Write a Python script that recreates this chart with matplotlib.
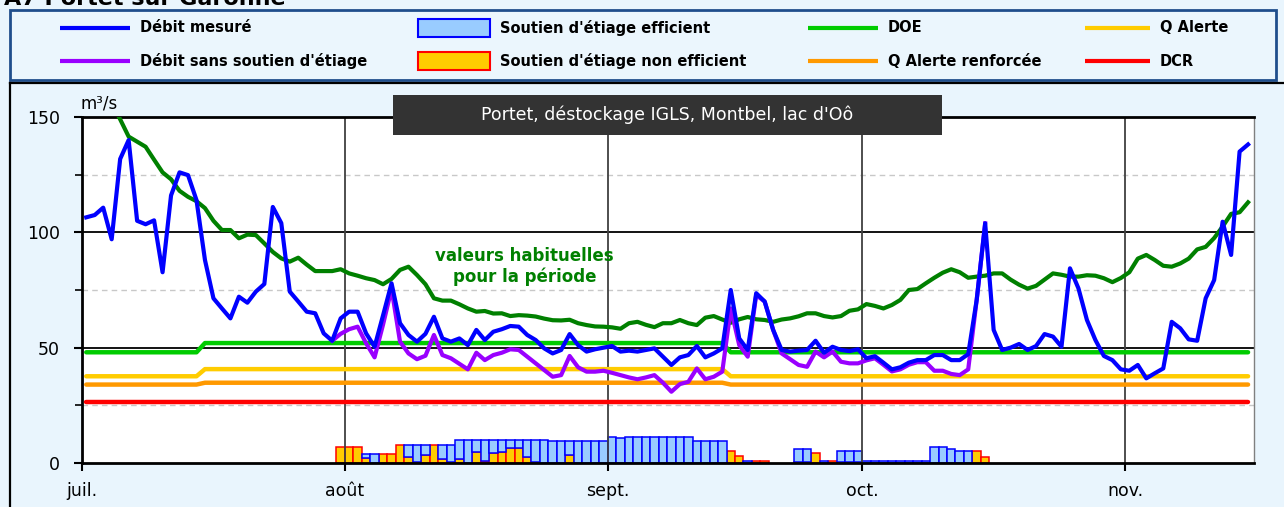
import numpy as np
import matplotlib
matplotlib.use("Agg")
import matplotlib.pyplot as plt
from matplotlib.patches import Rectangle

# --- données (m3/s), un point par jour à partir du 1er juillet ---
debit_mesure = [
    106.5, 107.5, 110.7, 97.0, 131.8, 140.0, 105.0, 103.5, 105.2, 82.7,
    116.0, 126.0, 124.8, 114.0, 88.0, 71.4, 67.0, 62.7, 72.1, 69.5,
    74.3, 77.6, 111.0, 104.0, 74.3, 70.0, 65.6, 64.9, 56.2, 53.0,
    62.7, 65.6, 65.6, 56.2, 50.4, 64.0, 77.9, 60.6, 55.5, 52.6,
    56.0, 63.4, 54.0, 52.6, 54.0, 51.1, 57.7, 53.3, 56.9, 58.0,
    59.4, 59.1, 55.5, 53.3, 49.7, 47.5, 49.0, 55.9, 51.1, 48.3,
    49.3, 50.0, 50.7, 48.3, 48.7, 48.3, 49.0, 49.7, 46.1, 42.5,
    45.8, 46.8, 50.7, 45.8, 47.5, 49.7, 75.0, 54.0, 49.0, 73.6,
    70.0, 57.7, 49.0, 48.3, 48.7, 49.0, 53.0, 47.8, 50.4, 49.0,
    48.5, 49.3, 45.4, 46.3, 43.5, 40.6, 41.5, 43.5, 44.6, 44.6,
    46.8, 46.8, 44.6, 44.6, 47.2, 70.7, 103.9, 57.7, 49.0, 50.0,
    51.6, 49.0, 50.7, 55.9, 54.8, 50.4, 84.4, 75.7, 62.0, 53.3,
    46.4, 44.6, 40.6, 40.0, 42.5, 36.7, 38.9, 41.0, 61.2, 58.4,
    53.6, 53.0, 71.4, 79.3, 104.6, 90.2, 135.0, 138.1,
]

# débit sans soutien d'étiage, du jour 29 au jour 106
sans_soutien_debut = 29
debit_sans_soutien = [
    53.0, 56.0, 58.0, 59.1, 51.9, 45.8, 60.0, 75.5, 52.6, 47.5,
    45.0, 46.5, 55.5, 46.8, 45.4, 43.0, 40.6, 47.8, 44.6, 46.8,
    47.8, 49.3, 49.0, 46.1, 43.2, 40.3, 37.4, 38.1, 46.4, 41.5,
    39.6, 39.6, 40.0, 39.1, 38.1, 37.1, 36.3, 37.1, 38.1, 34.8,
    30.9, 34.2, 35.2, 41.0, 36.3, 37.4, 39.6, 67.0, 51.1, 46.1,
    72.8, 70.0, 57.7, 47.5, 45.0, 42.5, 41.7, 48.3, 45.8, 48.3,
    43.9, 43.2, 43.2, 44.5, 45.4, 42.6, 39.7, 40.6, 42.6, 43.7,
    43.7, 40.0, 40.0, 38.6, 38.1, 40.6, 70.7, 103.9,
]

valeurs_habituelles = [
    174.0, 168.0, 162.0, 156.0, 149.0, 141.5, 139.3, 137.1, 131.5, 126.0,
    123.0, 118.0, 115.4, 113.5, 110.5, 105.0, 101.0, 101.0, 97.4, 99.0,
    98.8, 95.2, 91.5, 88.7, 87.3, 89.0, 86.0, 83.2, 83.2, 83.2,
    84.0, 82.2, 81.2, 80.1, 79.3, 77.5, 79.8, 83.7, 85.1, 81.5,
    77.5, 71.4, 70.4, 70.4, 68.8, 67.0, 65.6, 65.9, 64.8, 64.9,
    63.7, 64.1, 63.9, 63.5, 62.6, 61.9, 61.8, 62.1, 60.6, 59.8,
    59.2, 59.1, 58.8, 58.2, 60.6, 61.2, 59.9, 58.9, 60.6, 60.6,
    62.0, 60.6, 59.8, 63.0, 63.7, 62.2, 60.8, 62.3, 63.3, 62.3,
    62.0, 61.2, 62.2, 62.7, 63.6, 64.9, 64.9, 63.7, 63.1, 63.7,
    66.0, 66.6, 68.9, 68.1, 67.0, 68.5, 70.7, 75.0, 75.4, 77.9,
    80.3, 82.5, 84.0, 82.7, 80.3, 80.8, 81.2, 82.2, 82.2, 79.5,
    77.3, 75.6, 76.8, 79.5, 82.2, 81.6, 80.8, 80.8, 81.4, 81.2,
    80.1, 78.4, 80.2, 82.7, 88.6, 90.2, 88.0, 85.5, 85.1, 86.5,
    88.6, 92.6, 93.7, 97.5, 102.5, 108.0, 108.7, 113.0,
]

# seuils par période (jours 0-13, 14-75, 76-137)
periodes = [14, 62, 62]
doe = [48.0, 52.0, 48.0]
q_alerte = [37.6, 40.7, 37.6]
q_alerte_renforcee = [34.0, 34.8, 34.0]
dcr = [26.3, 26.3, 26.3]

# soutien d'étiage journalier, du jour 30 au jour 106
soutien_debut = 30
soutien_efficient = [
    0, 0, 0, 2.0, 3.9, 0, 0, 0, 5.1, 7.2,
    4.3, 0, 6.1, 7.4, 8.3, 10.0, 5.1, 9.2, 5.8, 5.1,
    3.6, 3.6, 7.3, 9.6, 10.0, 9.7, 9.7, 6.2, 9.7, 9.7,
    9.7, 9.7, 11.4, 10.7, 11.4, 11.4, 11.4, 11.4, 11.4, 11.4,
    11.4, 11.4, 9.7, 9.7, 9.7, 9.7, 0, 0, 0.9, 0,
    0, 0, 0, 0, 5.6, 5.6, 0, 0.9, 0, 4.8,
    4.8, 4.8, 0.9, 0.9, 0.9, 0.9, 0.9, 0.9, 0.9, 0.9,
    7.1, 7.1, 6.1, 5.3, 5.3, 0, 0,
]
soutien_non_efficient = [
    6.8, 6.8, 6.8, 2.0, 0, 3.9, 3.9, 7.8, 2.7, 0.6,
    3.5, 7.8, 1.7, 0.4, 1.7, 0, 4.9, 0.8, 4.2, 4.9,
    6.4, 6.4, 2.7, 0.4, 0, 0, 0, 3.5, 0, 0,
    0, 0, 0, 0, 0, 0, 0, 0, 0, 0,
    0, 0, 0, 0, 0, 0, 5.3, 3.0, 0, 0.8,
    0.8, 0, 0, 0, 0.5, 0.5, 4.5, 0, 0.8, 0.5,
    0.5, 0.5, 0, 0, 0, 0, 0, 0, 0, 0,
    0, 0, 0, 0, 0, 5.3, 2.5,
]

mois_pos = [0, 31, 62, 92, 123]
mois_noms = ["juil.", "août", "sept.", "oct.", "nov."]

# --- figure ---
W, H = 1284, 507
fig = plt.figure(figsize=(W / 100, H / 100), dpi=100, facecolor="#e9f5fd")

# fond / légende en coordonnées pixels
bg = fig.add_axes([0, 0, 1, 1], zorder=0)
bg.set_xlim(0, W)
bg.set_ylim(H, 0)
bg.axis("off")

bg.add_patch(Rectangle((10, 10), 1266, 70, fc="#ebf6fd", ec="#1f4e8c", lw=2))
bg.plot([10, W], [83, 83], color="black", lw=1.6)
bg.plot([10, 10], [83, H], color="black", lw=1.6)

fs_leg = 10.5
leg_lines = [
    (60, 130, 28, "#0000ff", "Débit mesuré"),
    (60, 130, 61, "#9900ff", "Débit sans soutien d'étiage"),
    (808, 878, 28, "#00cc00", "DOE"),
    (808, 878, 61, "#ff9900", "Q Alerte renforcée"),
    (1085, 1150, 28, "#ffcc00", "Q Alerte"),
    (1085, 1150, 61, "#ff0000", "DCR"),
]
for x0, x1, y, c, lab in leg_lines:
    bg.plot([x0, x1], [y, y], color=c, lw=3, solid_capstyle="butt")
    bg.text(x1 + 10, y, lab, fontsize=fs_leg, fontweight="bold", va="center", ha="left")

bg.add_patch(Rectangle((418, 19), 72, 18, fc="#99ccff", ec="#0000ff", lw=1.5))
bg.text(500, 28, "Soutien d'étiage efficient", fontsize=fs_leg, fontweight="bold", va="center")
bg.add_patch(Rectangle((418, 52), 72, 18, fc="#ffcc00", ec="#ff0000", lw=1.5))
bg.text(500, 61, "Soutien d'étiage non efficient", fontsize=fs_leg, fontweight="bold", va="center")

bg.text(80, 103, "m³/s", fontsize=12, va="center", ha="left")
bg.text(4, 5, "A7 Portet sur Garonne", fontsize=16, fontweight="bold", va="baseline", ha="left")

# --- graphique principal ---
ax = fig.add_axes([82 / W, 44 / H, 1172 / W, 346 / H], zorder=1)
ax.set_facecolor("white")

jours = np.arange(len(debit_mesure))
x = jours + 0.5

# seuils
bornes = np.repeat(np.arange(len(periodes)), periodes)
for niveaux, c in [(dcr, "#ff0000"), (q_alerte_renforcee, "#ff9900"),
                   (q_alerte, "#ffcc00"), (doe, "#00cc00")]:
    ax.plot(x, np.array(niveaux)[bornes], color=c, lw=3.2, zorder=3, solid_capstyle="round")

# soutien d'étiage (barres empilées)
jb = soutien_debut + np.arange(len(soutien_efficient))
eff = np.array(soutien_efficient)
neff = np.array(soutien_non_efficient)
m = neff > 0
ax.bar(jb[m], neff[m], width=1, align="edge", color="#ffcc00", edgecolor="#ff0000", lw=1.1, zorder=2)
m = eff > 0
ax.bar(jb[m], eff[m], width=1, bottom=neff[m], align="edge", color="#99ccff",
       edgecolor="#0000ff", lw=1.1, zorder=2)

ax.plot(x, valeurs_habituelles, color="#008000", lw=3, zorder=3.5)
xs = sans_soutien_debut + np.arange(len(debit_sans_soutien)) + 0.5
ax.plot(xs, debit_sans_soutien, color="#9900ff", lw=3, zorder=4)
ax.plot(x, debit_mesure, color="#0000ff", lw=3, zorder=5)

ax.text(52.2, 85.2, "valeurs habituelles\npour la période", color="#008000", fontsize=12,
        fontweight="bold", ha="center", va="center", linespacing=1.15, zorder=6)

# grilles
for v in [50, 100]:
    ax.axhline(v, color="black", lw=1.3, zorder=1)
for v in [25, 75, 125]:
    ax.axhline(v, color="#c8c8c8", lw=1, ls=(0, (4, 3)), zorder=1)
for p in mois_pos[1:]:
    ax.axvline(p, color="#404040", lw=1.3, zorder=2.5)

ax.set_xlim(0, 138.2)
ax.set_ylim(0, 150)
ax.set_xticks(mois_pos)
ax.set_xticklabels(mois_noms)
ax.set_yticks([0, 50, 100, 150])
ax.set_yticks([25, 75, 125], minor=True)
ax.tick_params(axis="y", which="major", direction="out", length=6, width=1.5, labelsize=12.5, pad=10)
ax.tick_params(axis="y", which="minor", direction="out", length=5, width=1.2)
ax.tick_params(axis="x", direction="out", length=6, width=1.5, labelsize=12.5, pad=8)

for s in ["top", "bottom", "left"]:
    ax.spines[s].set_linewidth(2)
    ax.spines[s].set_color("black")
ax.spines["right"].set_color("#808080")
ax.spines["right"].set_linewidth(1)

# bandeau titre
fig.add_artist(Rectangle((393 / W, 1 - 135 / H), 549 / W, 40 / H, transform=fig.transFigure,
                         fc="#333333", ec="none", zorder=5))
fig.text(667.5 / W, 1 - 115 / H, "Portet, déstockage IGLS, Montbel, lac d'Oô", color="white",
         fontsize=12.5, ha="center", va="center", zorder=6)

fig.savefig("out.png", dpi=100, facecolor=fig.get_facecolor())
